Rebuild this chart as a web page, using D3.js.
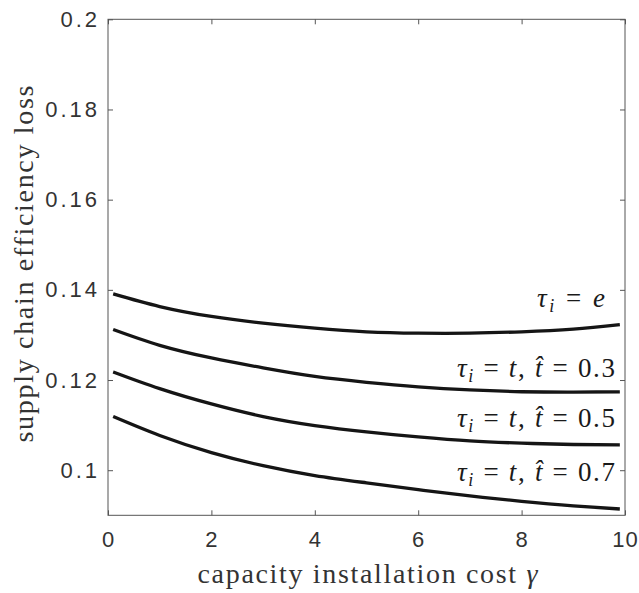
<!DOCTYPE html>
<html><head><meta charset="utf-8">
<script src="https://cdn.jsdelivr.net/npm/d3@7"></script>
<style>
body{margin:0;background:#fff;}
svg{display:block;}
</style></head>
<body>
<script>
const gammaX  = [0.1, 1, 2, 3, 4, 5, 6, 7, 8, 9, 9.9];
const lossE   = [0.1391, 0.1363, 0.1341, 0.1326, 0.1315, 0.1307, 0.1304, 0.1304, 0.1307, 0.1313, 0.1323];
const lossT03 = [0.1312, 0.1277, 0.1249, 0.1227, 0.1208, 0.1195, 0.1185, 0.1178, 0.1174, 0.1173, 0.1174];
const lossT05 = [0.1218, 0.1181, 0.1147, 0.1119, 0.1099, 0.1085, 0.1074, 0.1065, 0.1060, 0.1057, 0.1056];
const lossT07 = [0.1119, 0.1077, 0.1039, 0.1010, 0.0988, 0.0972, 0.0957, 0.0943, 0.0931, 0.0921, 0.0914];
const xTicks = [0, 2, 4, 6, 8, 10];
const yTicks = [0.1, 0.12, 0.14, 0.16, 0.18, 0.2];
const yTickLabels = ["0.1", "0.12", "0.14", "0.16", "0.18", "0.2"];
const seriesLabels = [
  {kind: "e", at: 0.1363},
  {kind: "t", v: "0.3", at: 0.12074},
  {kind: "t", v: "0.5", at: 0.10965},
  {kind: "t", v: "0.7", at: 0.09767}
];
const xLabel = "capacity installation cost ";
const yLabel = "supply chain efficiency loss";

const W = 639, H = 593;
const m = {l: 108, t: 19.3, r: 14, b: 77.7};
const x = d3.scaleLinear().domain([0, 10]).range([m.l, W - m.r]);
const y = d3.scaleLinear().domain([0.09, 0.2]).range([H - m.b, m.t]);

const svg = d3.select("body").append("svg").attr("width", W).attr("height", H);

const axisColor = "#555";
const tickFont = "'Liberation Sans', Arial, Helvetica, sans-serif";
const serif = "'Liberation Serif', 'Times New Roman', serif";

// box
svg.append("rect").attr("x", x(0)).attr("y", y(0.2)).attr("width", x(10) - x(0)).attr("height", y(0.09) - y(0.2))
  .attr("fill", "none").attr("stroke", axisColor).attr("stroke-width", 1);

// axes
const gx = svg.append("g").attr("transform", `translate(0,${y(0.09)})`)
  .call(d3.axisBottom(x).tickValues(xTicks).tickSizeInner(-5).tickSizeOuter(0).tickPadding(16).tickFormat(d3.format("d")));
const gxTop = svg.append("g").attr("transform", `translate(0,${y(0.2)})`)
  .call(d3.axisTop(x).tickValues(xTicks).tickSizeInner(-5).tickSizeOuter(0).tickFormat(""));
const gy = svg.append("g").attr("transform", `translate(${x(0)},0)`)
  .call(d3.axisLeft(y).tickValues(yTicks).tickSizeInner(-5).tickSizeOuter(0).tickPadding(8)
    .tickFormat((d, i) => yTickLabels[i]));
const gyR = svg.append("g").attr("transform", `translate(${x(10)},0)`)
  .call(d3.axisRight(y).tickValues(yTicks).tickSizeInner(-5).tickSizeOuter(0).tickFormat(""));

[gx, gxTop, gy, gyR].forEach(g => {
  g.select(".domain").remove();
  g.selectAll(".tick line").attr("stroke", axisColor);
  g.selectAll("text").attr("fill", "#333").style("font-family", tickFont).style("font-size", "22px");
});
gy.selectAll("text").style("letter-spacing", "3px");
gx.selectAll("text").style("letter-spacing", "1px");

// lines
const line = d3.line().x((d, i) => x(gammaX[i])).y(d => y(d)).curve(d3.curveNatural);
[lossE, lossT03, lossT05, lossT07].forEach(s => {
  svg.append("path").datum(s).attr("d", line).attr("fill", "none")
    .attr("stroke", "#151515").attr("stroke-width", 3.3).attr("stroke-linecap", "butt");
});

// series annotations
const annRight = [605, 615, 615, 615];
const annWidth = [68, 158, 158, 158];
seriesLabels.forEach((s, k) => {
  const t = svg.append("text").attr("x", annRight[k]).attr("y", y(s.at))
    .attr("text-anchor", "end").attr("fill", "#1a1a1a")
    .style("font-family", serif).style("font-size", "27px");
  t.append("tspan").attr("font-style", "italic").text("τ");
  t.append("tspan").attr("font-style", "italic").attr("font-size", "18px").attr("dy", 5).text("i");
  if (s.kind === "e") {
    t.append("tspan").attr("dy", -5).text(" = ");
    t.append("tspan").attr("font-style", "italic").text("e");
  } else {
    t.append("tspan").attr("dy", -5).text(" = ");
    t.append("tspan").attr("font-style", "italic").text("t");
    t.append("tspan").text(", ");
    t.append("tspan").attr("font-style", "italic").text("t\u0302");
    t.append("tspan").text(" = " + s.v);
  }
  t.attr("textLength", annWidth[k]).attr("lengthAdjust", "spacing");
});

// axis labels
const xl = svg.append("text").attr("x", (x(0) + x(10)) / 2 + 1).attr("y", 583).attr("text-anchor", "middle")
  .attr("fill", "#333").style("font-family", serif).style("font-size", "28px")
  .attr("textLength", 340).attr("lengthAdjust", "spacing");
xl.append("tspan").text(xLabel);
xl.append("tspan").attr("font-style", "italic").text("γ");

svg.append("text").attr("transform", `translate(33,264) rotate(-90)`)
  .attr("text-anchor", "middle").attr("fill", "#333")
  .style("font-family", serif).style("font-size", "28px")
  .attr("textLength", 357).attr("lengthAdjust", "spacing").text(yLabel);
</script>
</body></html>
